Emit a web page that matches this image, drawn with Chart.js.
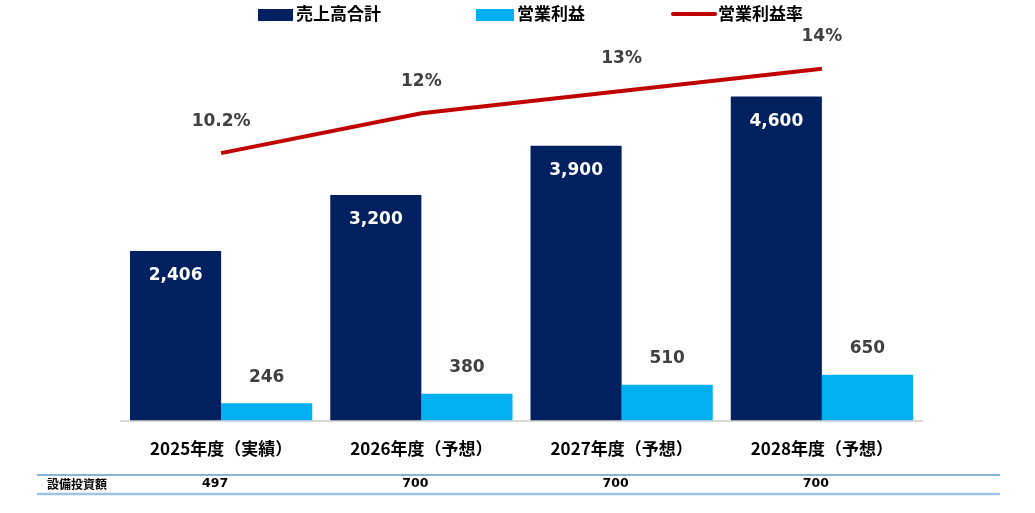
<!DOCTYPE html>
<html>
<head>
<meta charset="utf-8">
<script src="https://cdn.jsdelivr.net/npm/chart.js@4/dist/chart.umd.min.js"></script>
<style>
  html, body { margin: 0; padding: 0; background: #fff; }
  #wrap { position: relative; width: 1035px; height: 513px; }
</style>
</head>
<body>
<div id="wrap"><canvas id="c" width="1035" height="513"></canvas></div>
<script>
const categories = ['2025年度（実績）', '2026年度（予想）', '2027年度（予想）', '2028年度（予想）'];
const sales = [2406, 3200, 3900, 4600];
const opProfit = [246, 380, 510, 650];
const opMargin = [10.2, 12, 13, 14];
const marginLabels = ['10.2%', '12%', '13%', '14%'];
const capexLabel = '設備投資額';
const capex = [497, 700, 700, 700];

const NAVY = '#002060', CYAN = '#00b0f0', RED = '#c00000', GREY = '#404040';
const JP = '"Noto Sans CJK JP", "Noto Sans", sans-serif';
const NUM = '"DejaVu Sans", sans-serif';
const fmt = (v) => v.toLocaleString('en-US');

// value labels on bars and line
const valueLabels = {
  id: 'valueLabels',
  afterDatasetsDraw(chart) {
    const ctx = chart.ctx;
    ctx.save();
    ctx.font = 'bold 17px ' + NUM;
    ctx.textAlign = 'center';
    ctx.textBaseline = 'middle';
    chart.getDatasetMeta(0).data.forEach((b, i) => {
      ctx.fillStyle = '#fff';
      ctx.fillText(fmt(sales[i]), b.x, b.y + 25);
    });
    chart.getDatasetMeta(1).data.forEach((b, i) => {
      ctx.fillStyle = GREY;
      ctx.fillText(fmt(opProfit[i]), b.x, b.y - 26);
    });
    chart.getDatasetMeta(2).data.forEach((p, i) => {
      ctx.fillStyle = GREY;
      ctx.fillText(marginLabels[i], p.x, p.y - 32);
    });
    ctx.restore();
  }
};

// legend row at the top
const topLegend = {
  id: 'topLegend',
  afterDraw(chart) {
    const ctx = chart.ctx;
    const items = [
      { x: 258, w: 35 },
      { x: 476, w: 38 },
      { x: 673, w: 42 },
    ];
    ctx.save();
    ctx.font = 'bold 17px ' + JP;
    ctx.textBaseline = 'middle';
    chart.data.datasets.forEach((ds, i) => {
      const it = items[i];
      if (ds.type === 'line') {
        ctx.strokeStyle = ds.borderColor;
        ctx.lineWidth = 4;
        ctx.lineCap = 'round';
        ctx.beginPath();
        ctx.moveTo(it.x, 14);
        ctx.lineTo(it.x + it.w, 14);
        ctx.stroke();
      } else {
        ctx.fillStyle = ds.backgroundColor;
        ctx.fillRect(it.x, 9, it.w, 12);
      }
      ctx.fillStyle = '#000';
      ctx.fillText(ds.label, it.x + it.w + 3, 14);
    });
    ctx.restore();
  }
};

// capex row under the chart
const capexRow = {
  id: 'capexRow',
  afterDraw(chart) {
    const ctx = chart.ctx, x = chart.scales.x;
    ctx.save();
    ctx.strokeStyle = '#5b9bd5';
    ctx.lineWidth = 1.5;
    ctx.beginPath(); ctx.moveTo(37, 475); ctx.lineTo(1000, 475); ctx.stroke();
    ctx.strokeStyle = '#9dc3e6';
    ctx.lineWidth = 2.5;
    ctx.beginPath(); ctx.moveTo(37, 494); ctx.lineTo(1000, 494); ctx.stroke();
    ctx.fillStyle = '#000';
    ctx.textBaseline = 'middle';
    ctx.font = 'bold 12px ' + JP;
    ctx.textAlign = 'left';
    ctx.fillText(capexLabel, 47, 484);
    ctx.font = 'bold 12.5px ' + NUM;
    ctx.textAlign = 'center';
    capex.forEach((v, i) => ctx.fillText(fmt(v), x.getPixelForValue(i) - 6, 484));
    ctx.restore();
  }
};

new Chart(document.getElementById('c'), {
  data: {
    labels: categories,
    datasets: [
      { type: 'bar', label: '売上高合計', data: sales, backgroundColor: NAVY, yAxisID: 'y', order: 2 },
      { type: 'bar', label: '営業利益', data: opProfit, backgroundColor: CYAN, yAxisID: 'y', order: 2 },
      { type: 'line', label: '営業利益率', data: opMargin, borderColor: RED, backgroundColor: RED,
        borderWidth: 4, pointRadius: 0, tension: 0, yAxisID: 'y2', order: 1 },
    ],
  },
  options: {
    responsive: false,
    animation: false,
    layout: { padding: { left: 121, right: 113, top: 20, bottom: 36 } },
    datasets: { bar: { categoryPercentage: 0.91, barPercentage: 1 } },
    plugins: { legend: { display: false }, tooltip: { enabled: false } },
    scales: {
      x: {
        grid: { display: false, drawTicks: false },
        border: { display: true, color: '#d9d9d9', width: 2 },
        ticks: { color: '#000', padding: 18, font: { family: JP, size: 17, weight: 'bold' } },
      },
      y: { display: false, min: 0, max: 5684 },
      y2: { display: false, min: -1.855, max: 16.2 },
    },
  },
  plugins: [valueLabels, topLegend, capexRow],
});
</script>
</body>
</html>
